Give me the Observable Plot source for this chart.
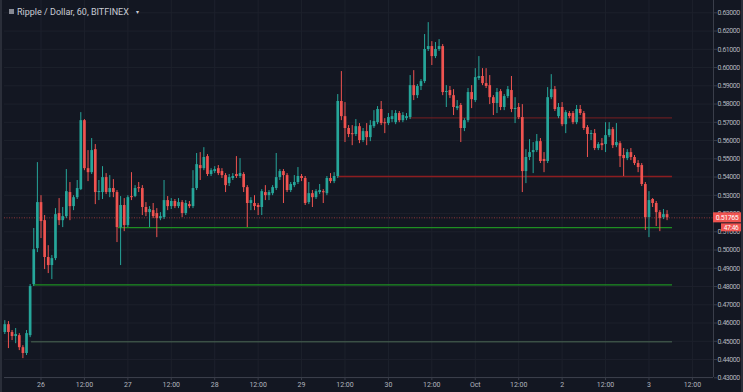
<!DOCTYPE html>
<html><head><meta charset="utf-8">
<script src="https://cdn.jsdelivr.net/npm/d3@7"></script>
<script src="https://cdn.jsdelivr.net/npm/@observablehq/plot@0.6"></script>
<style>
html,body{margin:0;padding:0;background:#131722;}
#chart{width:743px;height:392px;position:relative;overflow:hidden;}
</style></head><body><div id="chart"></div>
<script>
const title = "Ripple / Dollar, 60, BITFINEX";
const dayStartUTC = Date.UTC(2018, 8, 26, 0); // "26" label = 26 Sep 00:00 UTC
const firstHour = -10; // first candle is 10 hours before the "26" mark

const opens = [
.4548,.4591,.4548,.4526,.4531,.4465,.4433,.4531,.4811,.5008,
.5260,.5161,.4959,.4915,.4953,.5200,.5161,.5183,.5315,.5238,
.5287,.5331,.5709,.5446,.5424,.5550,.5315,.5315,.5397,.5315,
.5337,.5315,.5123,.5244,.5134,.5293,.5293,.5342,.5337,.5233,
.5205,.5216,.5200,.5172,.5178,.5271,.5238,.5266,.5238,.5260,
.5200,.5249,.5238,.5337,.5463,.5446,.5512,.5414,.5430,.5446,
.5430,.5408,.5364,.5392,.5414,.5403,.5414,.5342,.5255,.5255,
.5244,.5233,.5315,.5298,.5309,.5337,.5397,.5430,.5408,.5326,
.5353,.5370,.5403,.5392,.5260,.5309,.5287,.5315,.5320,.5309,
.5392,.5375,.5403,.5814,.5731,.5666,.5638,.5633,.5676,.5600,
.5649,.5616,.5676,.5698,.5770,.5698,.5693,.5715,.5698,.5748,
.5709,.5720,.5726,.5901,.5846,.5896,.5923,.6099,.6115,.6060,
.6099,.6115,.5863,.5874,.5846,.5775,.5792,.5666,.5709,.5863,
.5819,.5940,.5951,.5912,.5901,.5835,.5803,.5868,.5781,.5841,
.5874,.5770,.5781,.5726,.5430,.5507,.5534,.5545,.5594,.5496,
.5485,.5835,.5879,.5731,.5781,.5687,.5748,.5748,.5698,.5770,
.5748,.5671,.5633,.5638,.5556,.5583,.5578,.5627,.5660,.5572,
.5583,.5518,.5501,.5534,.5507,.5474,.5463,.5359,.5178,.5277,
.5255,.5205,.5178,.5194];

const closes = [
.4591,.4548,.4526,.4537,.4465,.4433,.4542,.4800,.5002,.5260,
.5156,.4959,.4915,.4953,.5194,.5161,.5183,.5320,.5238,.5287,
.5337,.5709,.5446,.5424,.5545,.5315,.5320,.5397,.5315,.5337,
.5315,.5123,.5244,.5134,.5287,.5287,.5337,.5337,.5233,.5205,
.5222,.5183,.5172,.5183,.5271,.5238,.5266,.5238,.5260,.5200,
.5255,.5238,.5337,.5468,.5446,.5507,.5414,.5435,.5441,.5419,
.5408,.5353,.5397,.5403,.5403,.5419,.5342,.5255,.5271,.5238,
.5233,.5320,.5298,.5315,.5342,.5397,.5430,.5408,.5326,.5359,
.5370,.5403,.5392,.5255,.5309,.5287,.5320,.5326,.5315,.5392,
.5375,.5403,.5814,.5731,.5666,.5633,.5633,.5676,.5600,.5649,
.5616,.5682,.5704,.5770,.5693,.5693,.5726,.5731,.5748,.5709,
.5737,.5731,.5901,.5846,.5896,.5923,.6099,.6115,.6060,.6099,
.6115,.5863,.5868,.5846,.5781,.5786,.5666,.5709,.5863,.5824,
.5945,.5951,.5912,.5896,.5835,.5803,.5863,.5781,.5841,.5879,
.5770,.5775,.5726,.5430,.5507,.5534,.5545,.5594,.5485,.5485,
.5835,.5879,.5770,.5781,.5687,.5753,.5731,.5698,.5770,.5748,
.5666,.5633,.5638,.5556,.5578,.5572,.5627,.5660,.5572,.5589,
.5512,.5501,.5534,.5507,.5474,.5452,.5359,.5178,.5271,.5255,
.5205,.5172,.5194,.51765];

const highs = [
.4613,.4608,.4559,.4570,.4542,.4476,.4559,.4811,.5118,.5479,
.5298,.5189,.5024,.4970,.5227,.5282,.5233,.5441,.5370,.5298,
.5381,.5753,.5715,.5545,.5611,.5578,.5381,.5457,.5419,.5408,
.5386,.5326,.5293,.5282,.5298,.5424,.5353,.5370,.5353,.5260,
.5238,.5255,.5227,.5205,.5381,.5293,.5282,.5277,.5282,.5271,
.5271,.5266,.5435,.5529,.5534,.5561,.5523,.5446,.5457,.5463,
.5446,.5419,.5414,.5419,.5512,.5501,.5424,.5353,.5287,.5298,
.5255,.5331,.5353,.5326,.5353,.5529,.5441,.5441,.5419,.5370,
.5408,.5452,.5414,.5403,.5370,.5326,.5331,.5359,.5331,.5403,
.5419,.5424,.5852,.5978,.5808,.5682,.5682,.5715,.5693,.5666,
.5693,.5709,.5764,.5786,.5814,.5720,.5748,.5764,.5764,.5759,
.5753,.5748,.5956,.5983,.5907,.5934,.6181,.6246,.6142,.6137,
.6153,.6126,.5901,.5896,.5879,.5819,.5803,.5720,.5885,.5901,
.5994,.6060,.5994,.5994,.5956,.5846,.5885,.5879,.5852,.5896,
.5951,.5835,.5803,.5797,.5550,.5605,.5589,.5633,.5611,.5534,
.5890,.5961,.5896,.5803,.5808,.5764,.5759,.5759,.5792,.5792,
.5759,.5682,.5655,.5660,.5589,.5611,.5698,.5698,.5671,.5693,
.5594,.5556,.5550,.5556,.5518,.5490,.5474,.5370,.5320,.5282,
.5266,.5216,.5222,.5216];

const lows = [
.4537,.4460,.4504,.4487,.4449,.4405,.4422,.4520,.4800,.4986,
.5063,.4893,.4871,.4838,.4942,.5134,.5123,.5172,.5161,.5216,
.5277,.5326,.5435,.5375,.5414,.5249,.5271,.5277,.5304,.5287,
.5287,.5041,.4915,.5101,.5123,.5271,.5287,.5315,.5189,.5183,
.5123,.5172,.5068,.5161,.5167,.5216,.5222,.5227,.5227,.5178,
.5189,.5227,.5227,.5326,.5381,.5435,.5403,.5403,.5419,.5408,
.5392,.5315,.5348,.5381,.5392,.5392,.5315,.5123,.5216,.5216,
.5189,.5189,.5271,.5271,.5298,.5326,.5381,.5255,.5315,.5315,
.5342,.5359,.5375,.5244,.5249,.5233,.5277,.5304,.5255,.5298,
.5364,.5364,.5392,.5709,.5589,.5616,.5572,.5622,.5583,.5589,
.5572,.5594,.5666,.5687,.5682,.5638,.5682,.5698,.5687,.5698,
.5698,.5709,.5715,.5819,.5830,.5874,.5912,.6088,.6011,.6049,
.6088,.5846,.5781,.5830,.5737,.5764,.5589,.5649,.5698,.5775,
.5808,.5929,.5901,.5885,.5797,.5737,.5748,.5764,.5764,.5830,
.5753,.5693,.5715,.5315,.5364,.5490,.5419,.5534,.5474,.5424,
.5474,.5824,.5759,.5720,.5676,.5638,.5720,.5687,.5687,.5737,
.5655,.5507,.5600,.5545,.5545,.5545,.5534,.5616,.5556,.5561,
.5452,.5403,.5490,.5490,.5463,.5424,.5348,.5107,.5068,.5233,
.5129,.5101,.5167,.5161];

const lastPrice = 0.51765;
const countdown = "47:46";

const priceTicks = [0.43,0.44,0.45,0.46,0.47,0.48,0.49,0.50,0.51,0.52,0.53,0.54,0.55,0.56,0.57,0.58,0.59,0.60,0.61,0.62,0.63];
const xTickHours = [0,12,24,36,48,60,72,84,96,108,120,132,144,156,168,180];
const xTickLabels = ["26","12:00","27","12:00","28","12:00","29","12:00","30","12:00","Oct","12:00","2","12:00","3","12:00"];

// horizontal drawn levels: price, start hour, end hour, kind
const levelPrices = [0.5724, 0.5403, 0.5123, 0.4809, 0.4497];
const levelStartHours = [101.8, 82.2, 21.4, -2.1, -2.6];
const levelEndHours = [174.5, 174.5, 174.5, 174.5, 174.5];
const levelKinds = ["redThin", "red", "green", "green", "dim"];

// ---- styles ----
const UP = "#26a69a", DOWN = "#ef5350";
const levelStyle = {
  redThin: {stroke: "#7a1f22", width: 1},
  red: {stroke: "#8c1d20", width: 1.4},
  green: {stroke: "#1e8f22", width: 1.4},
  dim: {stroke: "#4d6b55", width: 1}
};

const H = 3600e3;
const tAt = h => new Date(dayStartUTC + h * H);
const candles = opens.map((o, k) => ({
  t: tAt(firstHour + k), open: o, close: closes[k], high: highs[k], low: lows[k]
}));
const levels = levelPrices.map((p, k) => ({
  price: p, start: tAt(levelStartHours[k]), end: tAt(levelEndHours[k]), kind: levelKinds[k]
}));
const xTicks = xTickHours.map(tAt);
const labelByTime = new Map(xTicks.map((d, k) => [+d, xTickLabels[k]]));

const xDomain = [tAt(-10.086), tAt(185.83)];
const yDomain = [0.43016, 0.63674];
const col = d => d.close >= d.open ? UP : DOWN;
const minBody = 0.0006;

const chart = Plot.plot({
  width: 743, height: 392,
  marginLeft: 4, marginRight: 30, marginTop: 0, marginBottom: 15,
  style: {background: "#131722", color: "#b2b5be", fontFamily: "Roboto, 'DejaVu Sans', sans-serif", fontSize: "7px"},
  x: {type: "utc", domain: xDomain, axis: null},
  y: {domain: yDomain, axis: null},
  color: {type: "identity"},
  marks: [
    Plot.ruleX(xTicks, {stroke: "#1d212c", strokeWidth: 1}),
    Plot.ruleY(priceTicks, {stroke: "#1d212c", strokeWidth: 1}),
    Plot.ruleY(levels, {y: "price", x1: "start", x2: "end",
      stroke: d => levelStyle[d.kind].stroke, strokeWidth: d => levelStyle[d.kind].width}),
    Plot.ruleY([lastPrice], {stroke: DOWN, strokeOpacity: 0.55, strokeDasharray: "1,1.5", strokeWidth: 1}),
    Plot.ruleX(candles, {x: "t", y1: "low", y2: "high", stroke: col, strokeWidth: 1}),
    Plot.ruleX(candles, {x: "t", y1: "open",
      y2: d => Math.abs(d.close - d.open) < minBody ? d.open + (d.close >= d.open ? minBody : -minBody) : d.close,
      stroke: col, strokeWidth: 2.7, strokeLinecap: "butt"}),
    Plot.ruleX([xDomain[1]], {stroke: "#3a3e4a", strokeWidth: 1}),
    Plot.ruleY([yDomain[0]], {stroke: "#3a3e4a", strokeWidth: 1}),
    Plot.axisX(xTicks, {tickFormat: d => labelByTime.get(+d), tickSize: 3, tickPadding: 1.5,
      stroke: "#3a3e4a", fill: "#b2b5be", fontSize: 7}),
    Plot.axisY(priceTicks, {anchor: "right", tickFormat: d => d.toFixed(5), tickSize: 3, tickPadding: 1,
      stroke: "#3a3e4a", fill: "#b2b5be", fontSize: 7, className: "yax"})
  ]
});
document.getElementById("chart").appendChild(chart);

const svg = d3.select(chart);
// narrow the right-hand price labels like the reference
svg.selectAll("g[aria-label='y-axis tick label'] text, .yax text").style("letter-spacing", "-0.45px");

// overlays positioned through the chart's own scales
const ys = chart.scale("y");
const py = ys.apply(lastPrice);
const xr = chart.scale("x").range[1];
svg.append("rect").attr("x", xr).attr("y", py - 5).attr("width", 28).attr("height", 10).attr("fill", DOWN);
svg.append("text").attr("x", xr + 14).attr("y", py).attr("dy", "0.35em").attr("text-anchor", "middle")
  .attr("fill", "#ffffff").attr("font-size", 7).style("letter-spacing", "-0.45px").text(lastPrice.toFixed(5));
svg.append("rect").attr("x", xr + 8).attr("y", py + 6).attr("width", 20).attr("height", 8).attr("fill", DOWN);
svg.append("text").attr("x", xr + 18).attr("y", py + 10).attr("dy", "0.35em").attr("text-anchor", "middle")
  .attr("fill", "#ffffff").attr("font-size", 6.5).style("letter-spacing", "-0.3px").text(countdown);

// title (legend line) at the top-left of the pane
svg.append("rect").attr("x", 9).attr("y", 9).attr("width", 5).attr("height", 5).attr("fill", "#868993");
svg.append("text").attr("x", 17).attr("y", 15).attr("text-anchor", "start").attr("fill", "#c9ccd4")
  .attr("font-size", 9).text(title);
svg.append("text").attr("x", 136).attr("y", 14).attr("text-anchor", "start").attr("fill", "#c9ccd4")
  .attr("font-size", 6).text("▾");

// window borders
svg.append("rect").attr("x", 0).attr("y", 0).attr("width", 2).attr("height", 392).attr("fill", "#2a2e39");
svg.append("rect").attr("x", 741).attr("y", 0).attr("width", 2).attr("height", 392).attr("fill", "#2a2e39");
</script></body></html>
